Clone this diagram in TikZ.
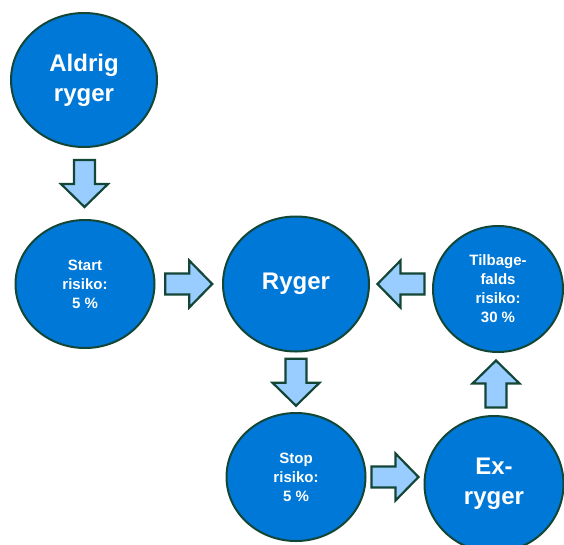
\documentclass[tikz,border=0pt]{standalone}
\usepackage{fontspec}
\setmainfont{Liberation Sans}
\usetikzlibrary{shapes.geometric,calc}
\definecolor{circfill}{RGB}{0,120,215}
\definecolor{edgegreen}{RGB}{20,70,55}
\definecolor{arrfill}{RGB}{153,204,255}
\tikzset{
  state/.style={ellipse, draw=edgegreen, line width=2pt, fill=circfill, text=white,
    font=\bfseries, align=center, inner sep=0pt},
  bigtxt/.style={font=\fontsize{24}{30}\selectfont\bfseries},
  smalltxt/.style={font=\fontsize{15}{19}\selectfont\bfseries},
  blockarrow/.pic={
    \draw[draw=edgegreen, line width=2.2pt, fill=arrfill, line join=miter]
      (-23.5,-10.5) -- (0.5,-10.5) -- (0.5,-23.5) -- (23.5,0) -- (0.5,23.5)
      -- (0.5,10.5) -- (-23.5,10.5) -- cycle;
  }
}
\begin{document}
\begin{tikzpicture}[x=1pt,y=-1pt]
\useasboundingbox (0,0) rectangle (564,544);
\clip (0,0) rectangle (564,544);
\node[state, bigtxt, minimum width=146pt, minimum height=134pt] (aldrig) at (84,80) {Aldrig\\ryger};
\node[state, smalltxt, minimum width=139pt, minimum height=128pt] (start) at (85,284) {Start\\risiko:\\5 \%};
\node[state, bigtxt, minimum width=146pt, minimum height=135pt] (ryger) at (296,284) {Ryger};
\node[state, smalltxt, minimum width=130pt, minimum height=126pt] (tilbage) at (498,289) {Tilbage-\\falds\\risiko:\\30 \%};
\node[state, smalltxt, minimum width=139pt, minimum height=128pt] (stop) at (296,477) {Stop\\risiko:\\5 \%};
\node[state, bigtxt, minimum width=139pt, minimum height=136pt] (ex) at (494,484) {Ex-\\ryger};
% block arrows between the states
\pic[rotate=-90] at ($(aldrig.south)!0.5!(start.north)$) {blockarrow};
\pic at ($(start.east)!0.5!(ryger.west)$) {blockarrow};
\pic[rotate=180] at ($(ryger.east)!0.5!(tilbage.west|-ryger.east)$) {blockarrow};
\pic[rotate=-90] at ($(ryger.south)!0.5!(stop.north)$) {blockarrow};
\pic at ($(stop.east)!0.5!(ex.west|-stop.east)$) {blockarrow};
\pic[rotate=90] at ($(ex.north)!0.5!(tilbage.south)$) {blockarrow};
\end{tikzpicture}
\end{document}
